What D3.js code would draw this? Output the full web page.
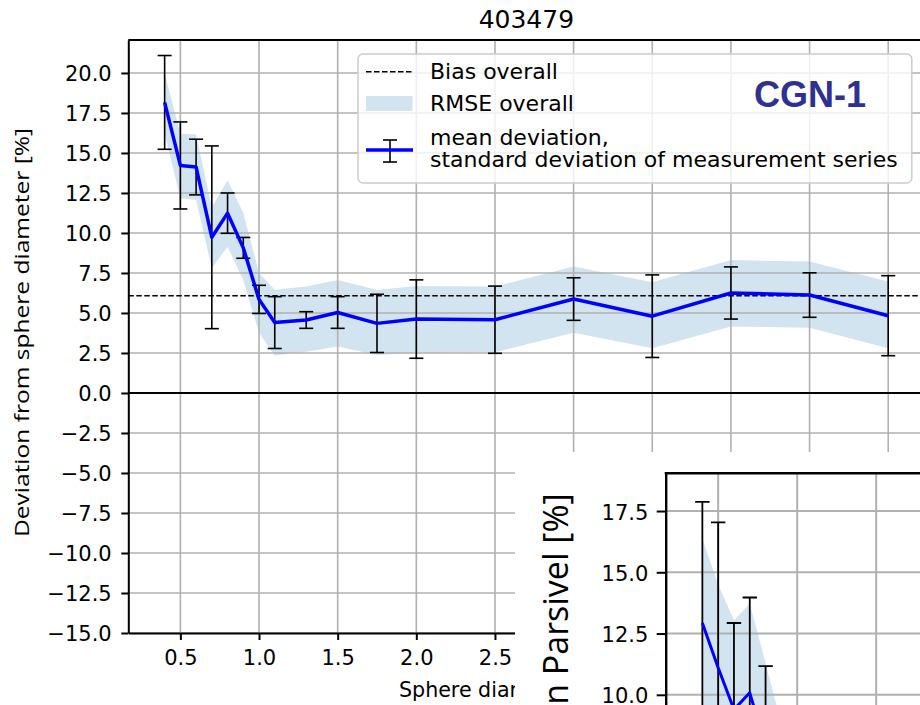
<!DOCTYPE html>
<html>
<head>
<meta charset="utf-8">
<script src="https://cdn.jsdelivr.net/npm/d3@7"></script>
<style>
  body { margin: 0; background: #fff; }
  text { font-family: "DejaVu Sans", sans-serif; }
</style>
</head>
<body>
<svg class="chart"></svg>
<script>
// main chart: sphere size vs deviation
var sizes = [0.4, 0.5, 0.6, 0.7, 0.8, 0.9, 1.0, 1.1, 1.3, 1.5, 1.75, 2.0, 2.5, 3.0, 3.5, 4.0, 4.5, 5.0];
var meanDev = [18.16, 14.22, 14.12, 9.73, 11.24, 9.07, 5.85, 4.4, 4.56, 5.03, 4.35, 4.62, 4.58, 5.87, 4.8, 6.25, 6.12, 4.83];
var stdDev = [2.93, 2.72, 1.74, 5.71, 1.26, 0.65, 0.88, 1.62, 0.52, 0.99, 1.82, 2.45, 2.1, 1.33, 2.58, 1.63, 1.39, 2.5];
var rmseLow = [16.2, 12.17, 12.06, 7.8, 9.14, 7.06, 3.78, 2.35, 2.58, 2.9, 2.38, 2.5, 2.55, 3.77, 2.79, 4.15, 4.08, 2.79];
var rmseHigh = [20.0, 16.2, 16.15, 11.6, 13.3, 11.25, 7.5, 6.45, 6.65, 7.06, 6.44, 6.68, 6.65, 7.9, 6.92, 8.31, 8.21, 6.96];
var biasOverall = 6.07;
var xTicks = [0.5, 1.0, 1.5, 2.0, 2.5, 3.0, 3.5, 4.0, 4.5, 5.0];
var yTicks = [-15, -12.5, -10, -7.5, -5, -2.5, 0, 2.5, 5, 7.5, 10, 12.5, 15, 17.5, 20];
var title = "403479";
var legendLabels = ["Bias overall", "RMSE overall", "mean deviation,", "standard deviation of measurement series"];

// inset chart (Parsivel), only its top-left corner is in the picture
var insetSizes = [0.4, 0.5, 0.6, 0.7, 0.8, 0.9];
var insetMean = [12.93, 11.1, 9.4, 10.08, 7.9, 5.4];
var insetStd = [4.94, 5.94, 3.53, 3.89, 3.27, 3.0];
var insetLow = [9.5, 7.7, 5.7, 6.4, 4.6, 2.0];
var insetHigh = [16.38, 14.5, 13.04, 13.72, 11.3, 8.8];
var insetXTicks = [0.5, 1.0, 1.5, 2.0];
var insetYTicks = [7.5, 10, 12.5, 15, 17.5];

function show() {

    'use strict';
    var W = 920, H = 705;

    var svg = d3.select(".chart")
        .attr("width", W)
        .attr("height", H);

    svg.append("rect").attr("width", W).attr("height", H).attr("fill", "#fff");

    var x = d3.scaleLinear().domain([0.169, 5.23]).range([128.3, 924.4]);
    var y = d3.scaleLinear().domain([-15, 22.06]).range([633, 40]);

    var rows = sizes.map(function(s, i) {
        return {s: s, m: meanDev[i], sd: stdDev[i], lo: rmseLow[i], hi: rmseHigh[i]};
    });

    // band
    var area = d3.area()
        .x(function(d) {return x(d.s)})
        .y0(function(d) {return y(d.lo)})
        .y1(function(d) {return y(d.hi)});
    svg.append("path").datum(rows)
        .attr("d", area)
        .attr("fill", "#1f77b4")
        .attr("fill-opacity", 0.2);

    // grid
    var grid = svg.append("g").attr("stroke", "#b0b0b0").attr("stroke-width", 1.6);
    grid.selectAll(".gx").data(xTicks).enter().append("line")
        .attr("x1", function(d) {return x(d)}).attr("x2", function(d) {return x(d)})
        .attr("y1", y.range()[1]).attr("y2", y.range()[0]);
    grid.selectAll(".gy").data(yTicks).enter().append("line")
        .attr("x1", x.range()[0]).attr("x2", x.range()[1])
        .attr("y1", function(d) {return y(d)}).attr("y2", function(d) {return y(d)});

    // zero line and bias
    svg.append("line")
        .attr("x1", x.range()[0]).attr("x2", x.range()[1])
        .attr("y1", y(0)).attr("y2", y(0))
        .attr("stroke", "#000").attr("stroke-width", 1.8);
    svg.append("line")
        .attr("x1", x.range()[0]).attr("x2", x.range()[1])
        .attr("y1", y(biasOverall)).attr("y2", y(biasOverall))
        .attr("stroke", "#000").attr("stroke-width", 1.5)
        .attr("stroke-dasharray", "5.5,2.5");

    // error bars
    drawErrorBars(svg, rows, x, y, 7, 1.6);

    svg.append("path").datum(rows)
        .attr("d", d3.line().x(function(d) {return x(d.s)}).y(function(d) {return y(d.m)}))
        .attr("fill", "none")
        .attr("stroke", "#0000ff")
        .attr("stroke-width", 3.5)
        .attr("stroke-linejoin", "round");

    // axes
    var yAxis = d3.axisLeft(y).tickValues(yTicks).tickFormat(d3.format(".1f"))
        .tickSize(7).tickPadding(9.6).tickSizeOuter(0);
    var gy = svg.append("g").attr("transform", "translate(" + x.range()[0] + ",0)").call(yAxis);
    styleAxis(gy, 21);
    gy.selectAll("text").attr("dy", "0.38em");

    var xAxis = d3.axisBottom(x).tickValues(xTicks).tickFormat(d3.format(".1f"))
        .tickSize(7).tickPadding(10).tickSizeOuter(0);
    var gx = svg.append("g").attr("transform", "translate(0," + y.range()[0] + ")").call(xAxis);
    styleAxis(gx, 21);

    svg.append("line")
        .attr("x1", x.range()[0]).attr("x2", x.range()[1])
        .attr("y1", y.range()[1]).attr("y2", y.range()[1])
        .attr("stroke", "#000").attr("stroke-width", 2);

    svg.append("text")
        .attr("x", (x.range()[0] + x.range()[1]) / 2).attr("y", 28.3)
        .attr("text-anchor", "middle").attr("font-size", 25)
        .text(title);

    svg.append("text")
        .attr("transform", "translate(29,332.5) rotate(-90)")
        .attr("text-anchor", "middle")
        .attr("font-size", 20)
        .style("font-family", "'Open Sans', sans-serif")
        .attr("textLength", 409).attr("lengthAdjust", "spacingAndGlyphs")
        .text("Deviation from sphere diameter [%]");

    svg.append("text")
        .attr("x", 399).attr("y", 696.7)
        .attr("font-size", 20.6)
        .text("Sphere diameter [mm]");

    // legend
    var leg = svg.append("g");
    leg.append("rect")
        .attr("x", 358).attr("y", 54).attr("width", 553.8).attr("height", 129)
        .attr("rx", 5).attr("fill", "#fff").attr("fill-opacity", 0.8)
        .attr("stroke", "#cccccc").attr("stroke-width", 1.5);
    leg.append("line")
        .attr("x1", 366).attr("x2", 412.5).attr("y1", 71.7).attr("y2", 71.7)
        .attr("stroke", "#000").attr("stroke-width", 1.5).attr("stroke-dasharray", "5.5,2.5");
    leg.append("rect")
        .attr("x", 366).attr("y", 96).attr("width", 46.5).attr("height", 15)
        .attr("fill", "#1f77b4").attr("fill-opacity", 0.2);
    leg.append("line")
        .attr("x1", 390).attr("x2", 390).attr("y1", 140).attr("y2", 162)
        .attr("stroke", "#000").attr("stroke-width", 1.6);
    [140, 162].forEach(function(cy) {
        leg.append("line")
            .attr("x1", 383).attr("x2", 397).attr("y1", cy).attr("y2", cy)
            .attr("stroke", "#000").attr("stroke-width", 1.6);
    });
    leg.append("line")
        .attr("x1", 366).attr("x2", 413).attr("y1", 150).attr("y2", 150)
        .attr("stroke", "#0000ff").attr("stroke-width", 3.5);
    var legY = [79, 111, 145, 167];
    leg.selectAll(".lt").data(legendLabels).enter().append("text")
        .attr("x", 430).attr("y", function(d, i) {return legY[i]})
        .attr("font-size", 22)
        .attr("fill", "#000")
        .text(function(d) {return d});

    svg.append("text")
        .attr("x", 754).attr("y", 106.7)
        .attr("font-size", 36).attr("font-weight", "bold")
        .style("font-family", "'Liberation Sans', Arial, sans-serif")
        .attr("fill", "#2e3192")
        .text("CGN-1");

    drawInset(svg);
}

function drawErrorBars(g, rows, x, y, cap, sw) {
    var eb = g.append("g").attr("stroke", "#000").attr("stroke-width", sw);
    rows.forEach(function(d) {
        var cx = x(d.s), top = y(d.m + d.sd), bot = y(d.m - d.sd);
        eb.append("line").attr("x1", cx).attr("x2", cx).attr("y1", top).attr("y2", bot);
        eb.append("line").attr("x1", cx - cap).attr("x2", cx + cap).attr("y1", top).attr("y2", top);
        eb.append("line").attr("x1", cx - cap).attr("x2", cx + cap).attr("y1", bot).attr("y2", bot);
    });
}

function styleAxis(g, fs) {
    g.attr("font-family", null).attr("font-size", null);
    g.select(".domain").attr("stroke-width", 2);
    g.selectAll(".tick line").attr("stroke-width", 2);
    g.selectAll(".tick text").attr("font-size", fs).attr("fill", "#000");
}

function drawInset(svg) {
    var ix = d3.scaleLinear().domain([0.168, 1.8]).range([665.7, 923.6]);
    var iy = d3.scaleLinear().domain([5, 19.04]).range([817.3, 473.3]);
    var left = ix.range()[0], top = iy.range()[1];

    svg.append("rect")
        .attr("x", 515).attr("y", 452).attr("width", 405).attr("height", 253)
        .attr("fill", "#fff");

    svg.append("defs").append("clipPath").attr("id", "clip-inset")
        .append("rect").attr("x", left).attr("y", top).attr("width", 300).attr("height", 300);

    var g = svg.append("g").attr("clip-path", "url(#clip-inset)");

    var rows = insetSizes.map(function(s, i) {
        return {s: s, m: insetMean[i], sd: insetStd[i], lo: insetLow[i], hi: insetHigh[i]};
    });

    g.append("path").datum(rows)
        .attr("d", d3.area()
            .x(function(d) {return ix(d.s)})
            .y0(function(d) {return iy(d.lo)})
            .y1(function(d) {return iy(d.hi)}))
        .attr("fill", "#1f77b4").attr("fill-opacity", 0.2);

    var grid = g.append("g").attr("stroke", "#b0b0b0").attr("stroke-width", 2);
    grid.selectAll(".gx").data(insetXTicks).enter().append("line")
        .attr("x1", function(d) {return ix(d)}).attr("x2", function(d) {return ix(d)})
        .attr("y1", top).attr("y2", iy.range()[0]);
    grid.selectAll(".gy").data(insetYTicks).enter().append("line")
        .attr("x1", left).attr("x2", ix.range()[1])
        .attr("y1", function(d) {return iy(d)}).attr("y2", function(d) {return iy(d)});

    drawErrorBars(g, rows, ix, iy, 7.2, 1.8);

    g.append("path").datum(rows)
        .attr("d", d3.line().x(function(d) {return ix(d.s)}).y(function(d) {return iy(d.m)}))
        .attr("fill", "none")
        .attr("stroke", "#0000ff")
        .attr("stroke-width", 3)
        .attr("stroke-linejoin", "round");

    var yAxis = d3.axisLeft(iy).tickValues(insetYTicks).tickFormat(d3.format(".1f"))
        .tickSize(9).tickPadding(8.4).tickSizeOuter(0);
    var gy = svg.append("g").attr("transform", "translate(" + left + ",0)").call(yAxis);
    styleAxis(gy, 21);
    gy.select(".domain").attr("stroke-width", 2.4);
    gy.selectAll("text").attr("dy", "0.38em");

    svg.append("line")
        .attr("x1", left - 1).attr("x2", 920).attr("y1", top).attr("y2", top)
        .attr("stroke", "#000").attr("stroke-width", 2.4);

    svg.append("text")
        .attr("transform", "translate(568.3,493.3) rotate(-90)")
        .attr("text-anchor", "end")
        .attr("font-size", 34)
        .style("font-family", "'Open Sans', sans-serif")
        .text("Deviation in Parsivel [%]");
}

show();
</script>
</body>
</html>
